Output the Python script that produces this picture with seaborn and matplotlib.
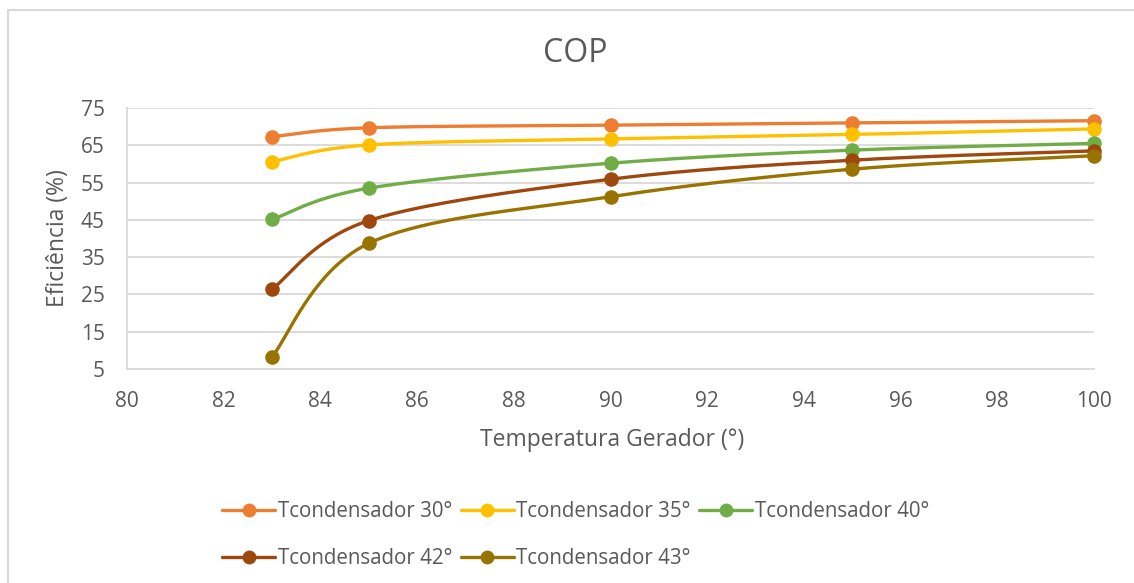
import numpy as np
import pandas as pd
import matplotlib
matplotlib.use("Agg")
import matplotlib.pyplot as plt
from matplotlib.lines import Line2D
from matplotlib.patches import Rectangle
import seaborn as sns

# Generator temperature (°) and efficiency (%) per condenser temperature
temperatura_gerador = [83, 85, 90, 95, 100]
t_cond_30 = [67.3, 69.7, 70.4, 71.0, 71.6]
t_cond_35 = [60.6, 65.1, 66.7, 67.9, 69.4]
t_cond_40 = [45.1, 53.5, 60.2, 63.7, 65.5]
t_cond_42 = [26.4, 44.8, 55.9, 61.0, 63.5]
t_cond_43 = [8.3, 38.7, 51.2, 58.6, 62.2]

series_names = ["Tcondensador 30°", "Tcondensador 35°", "Tcondensador 40°",
                "Tcondensador 42°", "Tcondensador 43°"]
series_values = [t_cond_30, t_cond_35, t_cond_40, t_cond_42, t_cond_43]
colors = ["#ED7D31", "#FFC000", "#70AD47", "#9E480E", "#997300"]

y_ticks = [5, 15, 25, 35, 45, 55, 65, 75]
x_ticks = [80, 82, 84, 86, 88, 90, 92, 94, 96, 98, 100]

sns.set_theme(style="white")
plt.rcParams["font.family"] = ["Open Sans", "DejaVu Sans"]
text_color = "#595959"
grid_color = "#D9D9D9"

fig = plt.figure(figsize=(11.34, 5.83), dpi=100)
ax = fig.add_axes([127 / 1134, 1 - 369 / 583, (1094 - 127) / 1134, (369 - 108) / 583])


def smooth_curve(xs, ys, x_span, y_span, n=40):
    """Bezier smoothing of a polyline (Catmull-Rom style control points)."""
    xs = np.asarray(xs, float)
    ys = np.asarray(ys, float)
    # work in a screen-proportional space so the curve shape follows the layout
    u = (xs - x_span[0]) / (x_span[1] - x_span[0]) * 967
    v = (ys - y_span[0]) / (y_span[1] - y_span[0]) * 261
    pts = np.column_stack([u, v])
    out = []
    m = len(pts)
    for i in range(m - 1):
        p0 = pts[max(i - 1, 0)]
        p1 = pts[i]
        p2 = pts[i + 1]
        p3 = pts[min(i + 2, m - 1)]
        c1 = p1 + (p2 - p0) / 6.0
        c2 = p2 - (p3 - p1) / 6.0
        t = np.linspace(0, 1, n)[:, None]
        seg = ((1 - t) ** 3) * p1 + 3 * ((1 - t) ** 2) * t * c1 + 3 * (1 - t) * t ** 2 * c2 + t ** 3 * p2
        out.append(seg if i == 0 else seg[1:])
    out = np.vstack(out)
    xo = out[:, 0] / 967 * (x_span[1] - x_span[0]) + x_span[0]
    yo = out[:, 1] / 261 * (y_span[1] - y_span[0]) + y_span[0]
    return xo, yo


x_span = (80, 100)
y_span = (5, 75)

for name, vals, col in zip(series_names, series_values, colors):
    xs, ys = smooth_curve(temperatura_gerador, vals, x_span, y_span)
    curve = pd.DataFrame({"x": xs, "y": ys})
    sns.lineplot(data=curve, x="x", y="y", ax=ax, color=col, linewidth=2.4,
                 sort=False, estimator=None, zorder=3)
    pts = pd.DataFrame({"x": temperatura_gerador, "y": vals})
    sns.scatterplot(data=pts, x="x", y="y", ax=ax, color=col, s=110,
                    edgecolor=col, linewidth=0, zorder=4, clip_on=False)

ax.set_xlim(*x_span)
ax.set_ylim(*y_span)
ax.set_xticks(x_ticks)
ax.set_yticks(y_ticks)
ax.yaxis.grid(True, color=grid_color, linewidth=1.3)
ax.xaxis.grid(False)
for side in ["top", "right"]:
    ax.spines[side].set_visible(False)
for side in ["left", "bottom"]:
    ax.spines[side].set_color(grid_color)
    ax.spines[side].set_linewidth(1.3)
ax.tick_params(axis="both", length=0, labelsize=15, colors=text_color)
ax.tick_params(axis="x", pad=16)
ax.tick_params(axis="y", pad=16)

ax.set_xlabel("Temperatura Gerador (°)", fontsize=16.5, color=text_color, va="center")
ax.set_ylabel("Eficiência (%)", fontsize=16.5, color=text_color, va="center")
ax.xaxis.set_label_coords((612 - 127) / 967, (369 - 440) / 261)
ax.yaxis.set_label_coords((58 - 127) / 967, (369 - 238) / 261)

fig.text(575 / 1134, 1 - 54 / 583, "COP", ha="center", va="center",
         fontsize=23, color=text_color)

# legend: rows [30, 35, 40] and [42, 43]
handles = [Line2D([0], [0], color=c, linewidth=2.4, marker="o", markersize=10,
                  markeredgewidth=0) for c in colors]
order = [0, 3, 1, 4, 2]
leg = fig.legend([handles[i] for i in order], [series_names[i] for i in order],
                 ncol=3, loc="upper left", bbox_to_anchor=(222 / 1134, 1 - 501 / 583),
                 frameon=False, fontsize=14.8, handlelength=2.6, handletextpad=0.12,
                 columnspacing=0.4, labelspacing=1.27, borderaxespad=0, borderpad=0)
for t in leg.get_texts():
    t.set_color(text_color)

# chart area outline
fig.patches.append(Rectangle((8 / 1134, -0.05), 1.2, 1 - 10 / 583 + 0.05,
                             transform=fig.transFigure, fill=False,
                             edgecolor=grid_color, linewidth=1.5))

fig.savefig("out.png", dpi=100, facecolor="white")
